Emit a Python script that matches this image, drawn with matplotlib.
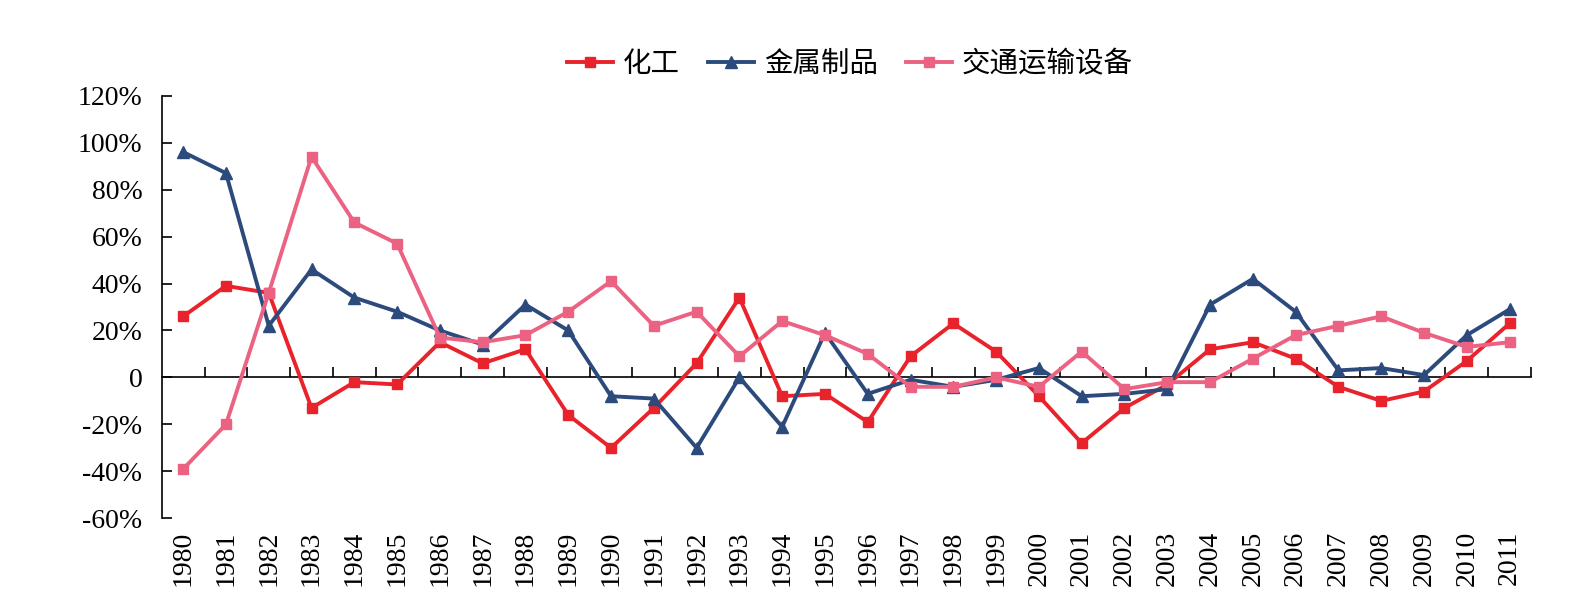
import matplotlib
matplotlib.use('Agg')
import matplotlib.pyplot as plt
from matplotlib.ticker import FuncFormatter

plt.rcParams['font.family'] = ['Liberation Serif', 'Noto Sans CJK SC']

years = [str(y) for y in range(1980, 2012)]
names = ['化工', '金属制品', '交通运输设备']
colors = ['#E8232B', '#2C4B7C', '#EB6283']
markers = ['s', '^', 's']

chem = [26, 39, 36, -13, -2, -3, 15, 6, 12, -16, -30, -13, 6, 34, -8, -7,
        -19, 9, 23, 11, -8, -28, -13, -3, 12, 15, 8, -4, -10, -6, 7, 23]
metal = [96, 87, 22, 46, 34, 28, 20, 14, 31, 20, -8, -9, -30, 0, -21, 19,
         -7, -1, -4, -1, 4, -8, -7, -5, 31, 42, 28, 3, 4, 1, 18, 29]
trans = [-39, -20, 36, 94, 66, 57, 17, 15, 18, 28, 41, 22, 28, 9, 24, 18,
         10, -4, -4, 0, -4, 11, -5, -2, -2, 8, 18, 22, 26, 19, 13, 15]

fig = plt.figure(figsize=(15.86, 6.11), dpi=100)
ax = fig.add_axes([0.102, 0.1517, 0.8633, 0.6917])

x = list(range(len(years)))
for data, name, c, m in zip([chem, metal, trans], names, colors, markers):
    ms = 8 if m == '^' else 7.5
    ax.plot(x, data, color=c, marker=m, markersize=ms, linewidth=2.8, label=name)

ax.set_xlim(-0.5, len(years) - 0.5)
ax.set_ylim(-60, 120)
ax.set_yticks(range(-60, 121, 20))
ax.yaxis.set_major_formatter(FuncFormatter(lambda v, p: '0' if v == 0 else '%d%%' % v))
ax.tick_params(axis='y', direction='in', length=7, width=1.2, pad=14, labelsize=20)

ax.set_xticks(x)
ax.set_xticklabels(years, rotation=90, fontsize=20)
ax.tick_params(axis='x', length=0, pad=9)

for s in ['top', 'right', 'bottom']:
    ax.spines[s].set_visible(False)
ax.spines['left'].set_linewidth(1.2)

# zero line with category boundary ticks
zero = ax.secondary_xaxis(60 / 180)
zero.set_xticks([i - 0.5 for i in range(1, len(years) + 1)])
zero.set_xticklabels([])
zero.tick_params(direction='in', length=7, width=1.2)
zero.spines['bottom'].set_linewidth(1.2)

fig.legend(loc='center', bbox_to_anchor=(0.536, 0.894), ncol=3, frameon=False,
           fontsize=20.5, handlelength=1.6, columnspacing=1.0, handletextpad=0.35)

fig.savefig('out.png', dpi=100)
